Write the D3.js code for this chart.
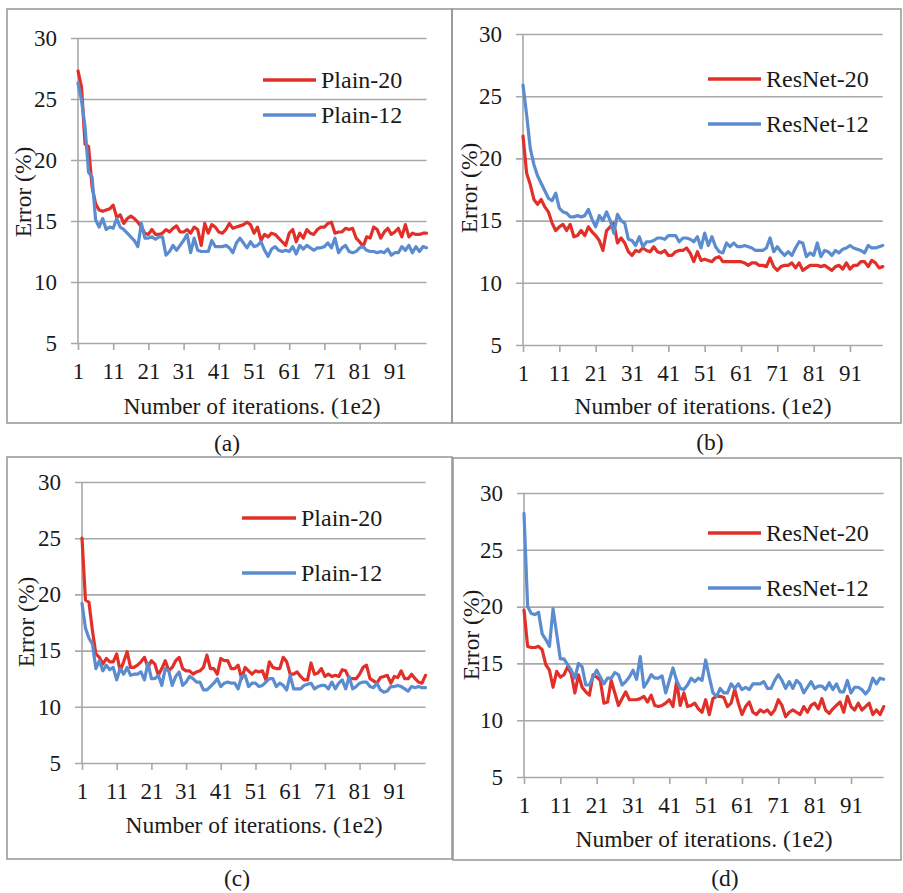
<!DOCTYPE html>
<html>
<head>
<meta charset="utf-8">
<script src="https://cdn.jsdelivr.net/npm/d3@7"></script>
<style>
  body { margin: 0; background: #fff; }
  .frame { fill: none; stroke: #959595; stroke-width: 1.5; }
  .grid line { stroke: #a8a8a8; stroke-width: 1.6; }
  .xaxis line, .yline { stroke: #a8a8a8; stroke-width: 1.6; }
  .line { fill: none; stroke-width: 3.2; stroke-linejoin: round; stroke-linecap: round; }
</style>
</head>
<body>
<script>
// x categories and tick labels
const iterations = d3.range(1, 101);
const xTickLabels = [1, 11, 21, 31, 41, 51, 61, 71, 81, 91];
const yTickLabels = [5, 10, 15, 20, 25, 30];

// (a) plain nets
const plainA20 = [27.3,26.0,21.3,21.1,17.8,16.4,15.9,15.8,15.9,16.0, 16.3,15.3,15.5,14.8,15.2,15.4,15.2,14.9,14.5,14.0,
  13.9,14.3,13.9,13.9,14.0,14.3,14.1,14.4,14.6,14.1, 14.1,14.3,14.0,14.5,14.3,13.0,14.8,14.0,14.7,14.5,
  14.1,14.0,14.3,14.8,14.4,14.5,14.6,14.7,14.9,14.7, 14.0,14.5,13.4,13.9,13.7,14.0,13.9,13.6,13.3,13.0,
  14.0,14.3,13.3,14.0,13.6,14.3,14.0,13.9,14.3,14.5, 14.5,14.8,14.9,14.0,14.1,14.1,14.4,14.3,14.4,13.6,
  13.3,12.9,13.7,13.6,14.5,14.3,13.6,14.1,14.4,13.9, 14.1,14.4,13.7,14.7,13.7,14.0,13.9,13.9,14.0,14.0];
const plainA12 = [26.3,24.9,22.7,19.0,18.6,15.1,14.5,15.2,14.3,14.5, 14.4,15.2,14.5,14.3,14.0,13.7,13.4,12.9,14.8,13.6,
  13.6,13.7,13.5,13.7,13.7,12.2,12.5,13.0,12.6,13.0, 13.4,13.9,12.4,13.6,12.6,12.5,12.5,12.5,13.4,12.9,
  12.9,12.9,13.0,12.8,12.4,13.2,13.6,13.2,12.8,13.3, 12.9,13.0,13.3,12.6,12.1,12.7,12.9,12.6,12.5,12.6,
  12.5,12.9,12.3,13.0,12.7,13.0,12.8,12.6,12.8,12.8, 12.9,13.2,12.8,13.6,12.4,12.8,13.0,12.5,12.4,12.5,
  12.8,12.9,12.6,12.5,12.5,12.4,12.5,12.4,12.7,12.2, 12.4,12.4,12.9,12.6,13.0,12.4,12.9,12.5,12.9,12.8];

// (b) residual nets
const resnetB20 = [21.8,18.8,17.9,16.7,16.3,16.7,16.1,15.7,14.8,14.2, 14.5,14.7,14.2,14.7,13.7,13.8,14.2,13.8,14.5,14.1,
  13.8,13.4,12.6,14.2,14.5,14.8,13.2,13.6,13.2,12.5, 12.2,12.6,12.5,12.8,12.6,12.5,12.9,12.5,12.4,12.6,
  12.2,12.2,12.5,12.6,12.6,12.8,12.4,11.7,12.5,11.8, 11.9,11.8,11.7,12.0,12.1,11.7,11.7,11.7,11.7,11.7,
  11.7,11.6,11.4,11.6,11.6,11.4,11.4,11.3,12.0,11.3, 11.0,11.3,11.4,11.4,11.6,11.2,11.6,11.0,11.2,11.4,
  11.4,11.4,11.3,11.4,11.2,11.0,11.3,11.4,11.1,11.6, 11.1,11.4,11.4,11.7,11.7,11.3,11.8,11.6,11.2,11.3];
const resnetB12 = [25.9,23.5,20.8,19.5,18.6,18.0,17.4,16.8,16.6,17.2, 16.0,15.7,15.6,15.3,15.3,15.4,15.3,15.4,15.9,15.1,
  14.5,15.4,15.0,15.7,15.0,14.0,15.5,15.0,14.8,13.5, 13.4,13.0,13.7,12.9,13.3,13.3,13.4,13.6,13.6,13.5,
  13.8,13.8,13.8,13.3,13.6,13.6,13.5,13.3,13.7,12.8, 14.0,13.0,13.7,12.9,12.5,12.4,13.2,12.9,13.2,12.9,
  12.9,13.0,12.9,12.8,12.6,12.6,12.6,12.8,13.6,12.5, 12.9,12.5,12.2,12.5,12.2,12.8,13.3,13.2,12.1,12.4,
  12.2,13.2,12.1,12.6,12.5,12.2,12.6,12.4,12.7,12.8, 13.0,12.8,12.7,12.6,12.4,13.0,12.8,12.8,12.9,13.0];

// (c) plain nets
const plainC20 = [25.0,19.5,19.3,16.8,14.7,14.4,13.8,14.3,14.0,14.0, 14.7,13.2,14.0,14.9,13.5,13.5,13.7,14.0,14.4,13.5,
  14.1,13.8,12.8,13.4,14.1,13.2,13.5,14.1,14.4,13.4, 13.2,13.2,12.9,13.1,13.2,13.5,14.6,13.4,13.4,12.9,
  14.3,14.1,14.1,13.4,13.4,13.7,12.5,13.5,13.2,12.9, 13.2,13.1,13.2,12.4,14.0,13.5,13.4,13.4,14.4,14.0,
  12.9,12.9,13.1,12.7,12.4,12.4,13.9,12.9,13.0,13.4, 12.7,12.9,12.7,12.8,12.7,13.3,13.2,12.5,12.5,12.5,
  12.9,13.5,13.7,12.5,12.3,12.1,12.6,12.7,12.8,12.1, 12.7,12.6,13.2,12.5,12.5,12.9,12.5,12.2,12.1,12.8];
const plainC12 = [19.2,17.0,16.1,15.6,13.4,14.1,13.2,13.7,13.3,13.5, 12.4,13.4,12.9,13.5,12.8,12.9,12.9,13.1,12.4,13.9,
  12.5,12.5,12.8,11.9,13.4,13.2,11.9,12.7,13.1,11.9, 12.2,12.7,12.5,12.2,12.2,11.5,11.5,11.8,12.1,12.5,
  11.8,12.1,12.2,12.1,12.1,11.6,12.7,12.8,11.8,12.1, 12.1,11.8,11.9,12.2,12.5,12.5,11.8,12.1,11.9,11.5,
  12.8,11.6,11.6,11.6,11.9,12.0,12.1,11.6,11.8,11.9, 11.9,11.6,12.2,11.6,12.1,12.4,11.6,12.7,11.6,11.8,
  12.1,12.2,12.2,11.8,11.7,12.1,11.5,11.3,11.4,11.8, 11.8,11.9,11.8,11.6,11.4,11.8,11.7,11.8,11.7,11.7];

// (d) residual nets
const resnetD20 = [19.7,16.5,16.4,16.4,16.5,16.2,14.9,14.4,12.9,14.3, 13.8,14.0,14.7,14.1,12.4,14.0,12.9,12.5,12.2,14.0,
  13.8,13.5,11.5,11.6,13.5,12.4,11.3,11.9,12.5,11.8, 11.8,11.8,11.9,12.1,11.6,12.2,11.3,11.2,11.3,11.5,
  11.8,11.2,13.4,11.3,12.4,11.2,11.3,11.5,11.0,10.7, 11.8,10.5,11.9,12.1,12.1,12.0,11.2,11.5,12.7,11.5,
  10.5,11.2,11.6,10.7,10.5,10.9,10.7,10.9,10.5,10.9, 11.8,11.3,10.3,10.7,10.9,10.7,10.5,11.2,10.7,11.3,
  11.5,11.0,11.9,10.9,10.6,11.0,11.3,11.6,10.7,12.1, 11.2,10.9,11.5,10.9,11.2,11.5,10.5,10.9,10.5,11.2];
const resnetD12 = [28.2,20.0,19.4,19.3,19.5,17.6,17.1,16.5,19.8,17.6, 15.4,15.4,14.9,14.4,13.7,15.0,14.7,13.1,13.1,13.8,
  14.4,13.8,13.2,13.7,13.7,14.2,14.0,13.1,13.4,13.8, 14.4,13.6,15.6,12.9,13.4,14.0,13.7,13.7,13.9,12.4,
  13.5,14.6,13.5,12.8,12.7,13.1,13.7,13.4,13.7,13.5, 15.3,13.8,12.4,12.1,12.8,12.4,12.4,13.2,12.8,13.2,
  12.7,12.9,12.7,13.2,13.2,13.2,13.4,12.8,12.8,13.5, 14.0,13.5,12.8,13.4,12.8,13.5,13.2,12.4,12.9,13.4,
  12.8,13.0,13.0,12.7,13.3,12.7,13.2,12.5,12.5,13.5, 12.4,12.9,12.9,12.7,12.3,12.7,13.7,13.2,13.7,13.6];

const red = "#e1302a", blue = "#5b8ccf";
const serif = "'Liberation Serif', 'DejaVu Serif', serif";

// page geometry of each panel
const panels = [
  { tag: "(a)", series: [plainA20, plainA12], names: ["Plain-20", "Plain-12"],
    frame: [7, 9, 452, 423], plot: { left: 78, right: 426.5, top: 38, bottom: 343 },
    legend: { x0: 263, x1: 316, ys: [80, 115] }, caption: [227, 450.5], xTitle: [252, 414], yTitle: [30.5, 192] },
  { tag: "(b)", series: [resnetB20, resnetB12], names: ["ResNet-20", "ResNet-12"],
    frame: [452, 9, 901, 423], plot: { left: 523, right: 882.7, top: 34, bottom: 345 },
    legend: { x0: 708, x1: 761, ys: [79, 124] }, caption: [710, 450], xTitle: [703, 414], yTitle: [477, 188] },
  { tag: "(c)", series: [plainC20, plainC12], names: ["Plain-20", "Plain-12"],
    frame: [7, 457, 452, 859], plot: { left: 82, right: 425.5, top: 482, bottom: 763 },
    legend: { x0: 242, x1: 296, ys: [518, 573] }, caption: [237, 886], xTitle: [254, 833], yTitle: [34.3, 622] },
  { tag: "(d)", series: [resnetD20, resnetD12], names: ["ResNet-20", "ResNet-12"],
    frame: [453, 458, 901, 860], plot: { left: 524, right: 883.7, top: 493, bottom: 777 },
    legend: { x0: 708, x1: 761, ys: [533, 588] }, caption: [725, 886], xTitle: [704, 847], yTitle: [479.3, 635] }
];

let svg = null;

appendSvg("body");
panels.forEach(drawPanel);

function appendSvg(domElement) {
  svg = d3.select(domElement).append("svg")
    .attr("width", 903)
    .attr("height", 893);
}

function styleText(sel, size) {
  sel.attr("font-family", serif)
    .attr("font-size", size)
    .attr("fill", "#1a1a1a");
}

function drawPanel(p) {
  const g = svg.append("g");
  const f = p.frame;
  g.append("rect").attr("class", "frame")
    .attr("x", f[0]).attr("y", f[1])
    .attr("width", f[2] - f[0]).attr("height", f[3] - f[1]);

  const x = d3.scaleLinear().domain([1, 100]).range([p.plot.left, p.plot.right]);
  const y = d3.scaleLinear().domain([5, 30]).range([p.plot.bottom, p.plot.top]);
  const w = p.plot.right - p.plot.left;

  // horizontal grid + y labels
  const ya = g.append("g").attr("class", "grid")
    .attr("transform", `translate(${p.plot.right},0)`)
    .call(d3.axisLeft(y).tickValues(yTickLabels).tickSize(w + 7).tickPadding(14));
  ya.attr("font-family", null).attr("font-size", null);
  ya.select(".domain").remove();
  styleText(ya.selectAll("text"), 23);

  // vertical axis line
  g.append("line").attr("class", "yline")
    .attr("x1", p.plot.left).attr("x2", p.plot.left)
    .attr("y1", p.plot.top).attr("y2", p.plot.bottom);

  // x axis
  const xa = g.append("g").attr("class", "xaxis")
    .attr("transform", `translate(0,${p.plot.bottom})`)
    .call(d3.axisBottom(x).tickValues(xTickLabels).tickSize(7).tickPadding(13));
  xa.attr("font-family", null).attr("font-size", null);
  xa.select(".domain").remove();
  styleText(xa.selectAll("text"), 23);

  // series lines
  const line = d3.line()
    .x((d, i) => x(iterations[i]))
    .y(d => y(d));
  [red, blue].forEach((c, k) => {
    g.append("path")
      .datum(p.series[k])
      .attr("class", "line")
      .attr("stroke", c)
      .attr("d", line);
  });

  // legend
  p.names.forEach((name, k) => {
    const ly = p.legend.ys[k];
    g.append("line")
      .attr("x1", p.legend.x0).attr("x2", p.legend.x1)
      .attr("y1", ly).attr("y2", ly)
      .attr("stroke", k === 0 ? red : blue)
      .attr("stroke-width", 3.4);
    g.append("text")
      .attr("x", p.legend.x1 + 5).attr("y", ly + 8)
      .call(styleText, 24)
      .text(name);
  });

  // axis titles
  g.append("text")
    .attr("x", p.xTitle[0]).attr("y", p.xTitle[1])
    .attr("text-anchor", "middle")
    .call(styleText, 23.5)
    .text("Number of iterations. (1e2)");
  g.append("text")
    .attr("transform", `translate(${p.yTitle[0]},${p.yTitle[1]}) rotate(-90)`)
    .attr("text-anchor", "middle")
    .call(styleText, 23.5)
    .text("Error (%)");

  // caption
  svg.append("text")
    .attr("x", p.caption[0]).attr("y", p.caption[1])
    .attr("text-anchor", "middle")
    .call(styleText, 23.5)
    .text(p.tag);
}
</script>
</body>
</html>
